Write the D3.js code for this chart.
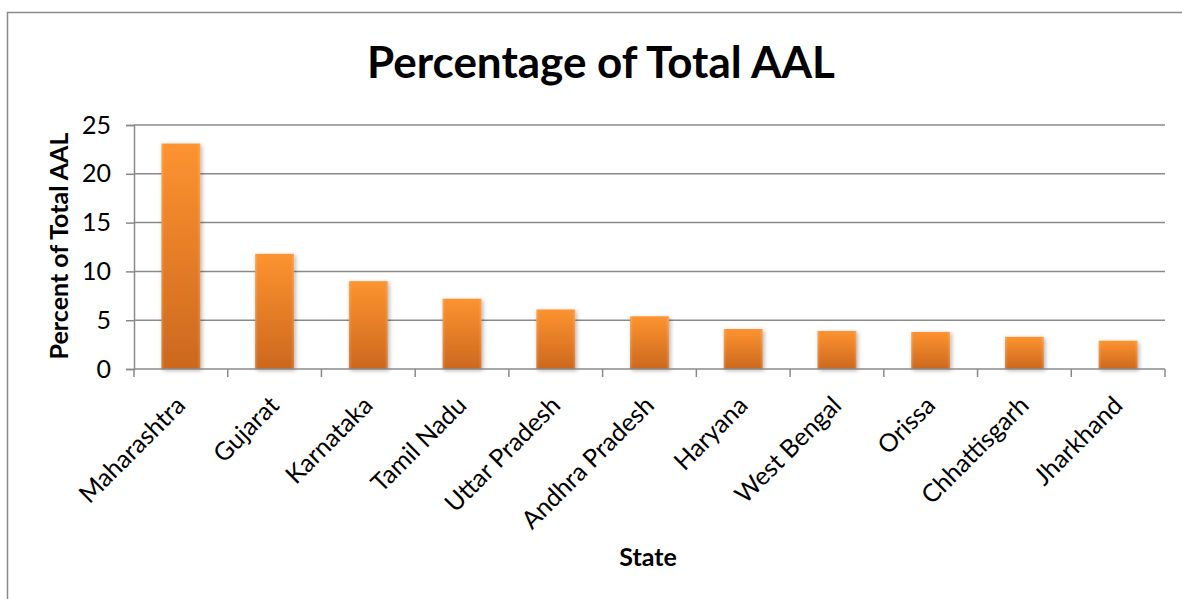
<!DOCTYPE html>
<html>
<head>
<meta charset="utf-8">
<script src="https://cdn.jsdelivr.net/npm/d3@7"></script>
<style>
  html, body { margin: 0; padding: 0; background: #fff; }
  svg { display: block; font-family: Lato, "Open Sans", sans-serif; }
</style>
</head>
<body>
<svg id="chart" width="1182" height="599"></svg>
<script>
// Share of total average annual loss by state
const states = ["Maharashtra", "Gujarat", "Karnataka", "Tamil Nadu", "Uttar Pradesh",
  "Andhra Pradesh", "Haryana", "West Bengal", "Orissa", "Chhattisgarh", "Jharkhand"];
const percentAAL = [23.1, 11.8, 9.0, 7.2, 6.1, 5.4, 4.1, 3.9, 3.8, 3.3, 2.9];
const yTicks = [0, 5, 10, 15, 20, 25];

const titleText = "Percentage of Total AAL";
const yTitle = "Percent of Total AAL";
const xTitle = "State";

const svg = d3.select("#chart");
const W = 1182, H = 599;
const plot = { left: 134, right: 1165, top: 125, bottom: 369 };

// outer chart frame (runs past the right and bottom edges)
svg.append("rect")
  .attr("x", 7.5).attr("y", 12.5)
  .attr("width", W + 20).attr("height", H + 20)
  .attr("fill", "#fff").attr("stroke", "#8a8a8a").attr("stroke-width", 1.5);

const defs = svg.append("defs");
const grad = defs.append("linearGradient")
  .attr("id", "barFill").attr("x1", 0).attr("y1", 0).attr("x2", 0).attr("y2", 1);
grad.append("stop").attr("offset", "0%").attr("stop-color", "#fd9330");
grad.append("stop").attr("offset", "100%").attr("stop-color", "#cc681e");

const edge = defs.append("linearGradient")
  .attr("id", "barEdge").attr("x1", 0).attr("y1", 0).attr("x2", 1).attr("y2", 0);
edge.append("stop").attr("offset", "0%").attr("stop-color", "#fff").attr("stop-opacity", 0.18);
edge.append("stop").attr("offset", "8%").attr("stop-color", "#fff").attr("stop-opacity", 0);
edge.append("stop").attr("offset", "92%").attr("stop-color", "#fff").attr("stop-opacity", 0);
edge.append("stop").attr("offset", "100%").attr("stop-color", "#fff").attr("stop-opacity", 0.18);

const shadow = defs.append("filter").attr("id", "barShadow")
  .attr("x", "-30%").attr("y", "-10%").attr("width", "160%").attr("height", "130%");
shadow.append("feDropShadow")
  .attr("dx", 1.5).attr("dy", 1.5).attr("stdDeviation", 2)
  .attr("flood-color", "#000").attr("flood-opacity", 0.3);

const x = d3.scaleBand().domain(states).range([plot.left, plot.right]).padding(0);
const y = d3.scaleLinear().domain([0, 25]).range([plot.bottom, plot.top]);

// value axis with tick stubs left of the axis line
const yAxis = d3.axisLeft(y).tickValues(yTicks).tickSize(8).tickPadding(15)
  .tickFormat(d3.format("d"));
const gy = svg.append("g").attr("transform", `translate(${plot.left},0)`).call(yAxis);
gy.select(".domain").attr("stroke", "#8a8a8a").attr("stroke-width", 1.5);
gy.selectAll(".tick line").attr("stroke", "#8a8a8a").attr("stroke-width", 1.5);
gy.selectAll(".tick text").attr("fill", "#000").style("font-size", "25px")
  .style("font-family", "Lato, sans-serif");

// horizontal gridlines
svg.append("g").selectAll("line").data(yTicks.filter(d => d > 0)).join("line")
  .attr("x1", plot.left).attr("x2", plot.right)
  .attr("y1", d => y(d)).attr("y2", d => y(d))
  .attr("stroke", "#8a8a8a").attr("stroke-width", 1.5);

// bars
const barW = x.bandwidth() * 0.415;
const bars = svg.append("g");
bars.selectAll("rect.bar").data(states).join("rect").attr("class", "bar")
  .attr("x", d => x(d) + (x.bandwidth() - barW) / 2)
  .attr("width", barW)
  .attr("y", (d, i) => y(percentAAL[i]))
  .attr("height", (d, i) => y(0) - y(percentAAL[i]))
  .attr("fill", "url(#barFill)")
  .attr("filter", "url(#barShadow)");
bars.selectAll("rect.edge").data(states).join("rect").attr("class", "edge")
  .attr("x", d => x(d) + (x.bandwidth() - barW) / 2)
  .attr("width", barW)
  .attr("y", (d, i) => y(percentAAL[i]))
  .attr("height", (d, i) => y(0) - y(percentAAL[i]))
  .attr("fill", "url(#barEdge)");

// category axis: ticks at band boundaries
svg.append("line")
  .attr("x1", plot.left).attr("x2", plot.right)
  .attr("y1", y(0)).attr("y2", y(0))
  .attr("stroke", "#8a8a8a").attr("stroke-width", 1.5);
const bounds = states.map(d => x(d)).concat([x(states[states.length - 1]) + x.bandwidth()]);
svg.append("g").selectAll("line").data(bounds).join("line")
  .attr("x1", d => d).attr("x2", d => d)
  .attr("y1", y(0)).attr("y2", y(0) + 8)
  .attr("stroke", "#8a8a8a").attr("stroke-width", 1.5);

svg.append("g").selectAll("text").data(states).join("text")
  .attr("transform", d => `translate(${x(d) + x.bandwidth() / 2 + 6},${y(0) + 38}) rotate(-45)`)
  .attr("text-anchor", "end")
  .style("font-size", "25px")
  .attr("fill", "#000")
  .text(d => d);

// titles
svg.append("text")
  .attr("x", 601).attr("y", 78)
  .attr("text-anchor", "middle")
  .style("font-size", "44px").style("font-weight", "bold")
  .text(titleText);

svg.append("text")
  .attr("transform", `translate(68,246) rotate(-90)`)
  .attr("text-anchor", "middle")
  .style("font-size", "25px").style("font-weight", "bold")
  .text(yTitle);

svg.append("text")
  .attr("x", 648).attr("y", 566)
  .attr("text-anchor", "middle")
  .style("font-size", "25px").style("font-weight", "bold")
  .text(xTitle);
</script>
</body>
</html>
